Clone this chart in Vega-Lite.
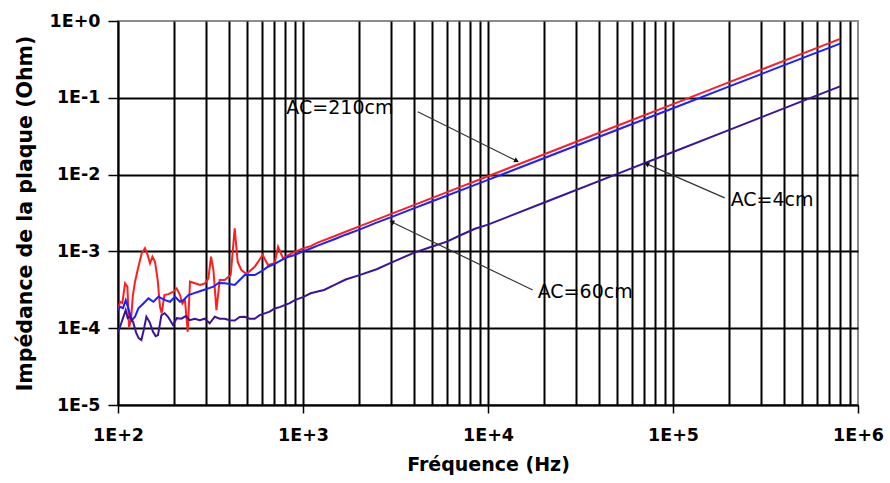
{
  "$schema": "https://vega.github.io/schema/vega-lite/v6.json",
  "width": 740,
  "height": 384,
  "autosize": "none",
  "padding": {"left": 118, "top": 21, "right": 32, "bottom": 78},
  "background": "white",
  "config": {
    "view": {"stroke": "#8c8c8c", "strokeWidth": 2},
    "font": "DejaVu Sans"
  },
  "datasets": {
    "curves": [
      {"serie": "AC=210cm", "freq": 100, "z": 1.72e-4},
      {"serie": "AC=210cm", "freq": 102.5, "z": 2.21e-4},
      {"serie": "AC=210cm", "freq": 105.6, "z": 2.12e-4},
      {"serie": "AC=210cm", "freq": 109.1, "z": 3.84e-4},
      {"serie": "AC=210cm", "freq": 112.4, "z": 3.47e-4},
      {"serie": "AC=210cm", "freq": 114.7, "z": 1.04e-4},
      {"serie": "AC=210cm", "freq": 117.6, "z": 1.27e-4},
      {"serie": "AC=210cm", "freq": 120.1, "z": 2.57e-4},
      {"serie": "AC=210cm", "freq": 123.6, "z": 4.03e-4},
      {"serie": "AC=210cm", "freq": 128.9, "z": 6.31e-4},
      {"serie": "AC=210cm", "freq": 134.3, "z": 9.44e-4},
      {"serie": "AC=210cm", "freq": 139.9, "z": 1.10e-3},
      {"serie": "AC=210cm", "freq": 144.7, "z": 8.97e-4},
      {"serie": "AC=210cm", "freq": 148.9, "z": 7.00e-4},
      {"serie": "AC=210cm", "freq": 153.5, "z": 8.53e-4},
      {"serie": "AC=210cm", "freq": 158.5, "z": 7.34e-4},
      {"serie": "AC=210cm", "freq": 163.9, "z": 4.24e-4},
      {"serie": "AC=210cm", "freq": 168.7, "z": 1.90e-4},
      {"serie": "AC=210cm", "freq": 172.3, "z": 1.57e-4},
      {"serie": "AC=210cm", "freq": 178.2, "z": 2.70e-4},
      {"serie": "AC=210cm", "freq": 187.3, "z": 2.78e-4},
      {"serie": "AC=210cm", "freq": 199.3, "z": 2.98e-4},
      {"serie": "AC=210cm", "freq": 207.6, "z": 3.30e-4},
      {"serie": "AC=210cm", "freq": 216.4, "z": 2.70e-4},
      {"serie": "AC=210cm", "freq": 222.9, "z": 2.10e-4},
      {"serie": "AC=210cm", "freq": 230.2, "z": 2.32e-4},
      {"serie": "AC=210cm", "freq": 238.1, "z": 8.97e-5},
      {"serie": "AC=210cm", "freq": 245.0, "z": 4.03e-4},
      {"serie": "AC=210cm", "freq": 260.8, "z": 3.84e-4},
      {"serie": "AC=210cm", "freq": 277.5, "z": 3.65e-4},
      {"serie": "AC=210cm", "freq": 295.3, "z": 3.84e-4},
      {"serie": "AC=210cm", "freq": 308.1, "z": 4.46e-4},
      {"serie": "AC=210cm", "freq": 318.3, "z": 8.53e-4},
      {"serie": "AC=210cm", "freq": 328.0, "z": 5.72e-4},
      {"serie": "AC=210cm", "freq": 340.4, "z": 1.72e-4},
      {"serie": "AC=210cm", "freq": 354.6, "z": 4.24e-4},
      {"serie": "AC=210cm", "freq": 377.4, "z": 4.24e-4},
      {"serie": "AC=210cm", "freq": 406.6, "z": 4.92e-4},
      {"serie": "AC=210cm", "freq": 427.3, "z": 2.00e-3},
      {"serie": "AC=210cm", "freq": 443.6, "z": 7.27e-4},
      {"serie": "AC=210cm", "freq": 464.5, "z": 5.72e-4},
      {"serie": "AC=210cm", "freq": 494.4, "z": 5.07e-4},
      {"serie": "AC=210cm", "freq": 548.3, "z": 6.31e-4},
      {"serie": "AC=210cm", "freq": 605.6, "z": 8.97e-4},
      {"serie": "AC=210cm", "freq": 647.1, "z": 6.65e-4},
      {"serie": "AC=210cm", "freq": 703.1, "z": 7.00e-4},
      {"serie": "AC=210cm", "freq": 733.0, "z": 1.15e-3},
      {"serie": "AC=210cm", "freq": 779.7, "z": 8.13e-4},
      {"serie": "AC=210cm", "freq": 865.8, "z": 9.44e-4},
      {"serie": "AC=210cm", "freq": 1000, "z": 1.09e-3},
      {"serie": "AC=210cm", "freq": 1100, "z": 1.17e-3},
      {"serie": "AC=210cm", "freq": 1200, "z": 1.30e-3},
      {"serie": "AC=210cm", "freq": 1500, "z": 1.60e-3},
      {"serie": "AC=210cm", "freq": 1700, "z": 1.80e-3},
      {"serie": "AC=210cm", "freq": 2000, "z": 2.10e-3},
      {"serie": "AC=210cm", "freq": 2500, "z": 2.59e-3},
      {"serie": "AC=210cm", "freq": 3000, "z": 3.08e-3},
      {"serie": "AC=210cm", "freq": 4000, "z": 4.03e-3},
      {"serie": "AC=210cm", "freq": 5000, "z": 4.97e-3},
      {"serie": "AC=210cm", "freq": 7000, "z": 6.81e-3},
      {"serie": "AC=210cm", "freq": 10000, "z": 9.53e-3},
      {"serie": "AC=210cm", "freq": 20000, "z": 1.83e-2},
      {"serie": "AC=210cm", "freq": 50000, "z": 4.33e-2},
      {"serie": "AC=210cm", "freq": 100000, "z": 8.28e-2},
      {"serie": "AC=210cm", "freq": 200000, "z": 0.159},
      {"serie": "AC=210cm", "freq": 500000, "z": 0.376},
      {"serie": "AC=210cm", "freq": 800000, "z": 0.585},

      {"serie": "AC=60cm", "freq": 100, "z": 1.72e-4},
      {"serie": "AC=60cm", "freq": 102.5, "z": 1.90e-4},
      {"serie": "AC=60cm", "freq": 106.4, "z": 1.83e-4},
      {"serie": "AC=60cm", "freq": 110.1, "z": 2.32e-4},
      {"serie": "AC=60cm", "freq": 113.8, "z": 1.81e-4},
      {"serie": "AC=60cm", "freq": 118.6, "z": 1.27e-4},
      {"serie": "AC=60cm", "freq": 123.6, "z": 1.41e-4},
      {"serie": "AC=60cm", "freq": 128.9, "z": 1.81e-4},
      {"serie": "AC=60cm", "freq": 137.2, "z": 2.10e-4},
      {"serie": "AC=60cm", "freq": 146.0, "z": 2.45e-4},
      {"serie": "AC=60cm", "freq": 155.4, "z": 2.21e-4},
      {"serie": "AC=60cm", "freq": 165.4, "z": 2.57e-4},
      {"serie": "AC=60cm", "freq": 179.6, "z": 2.32e-4},
      {"serie": "AC=60cm", "freq": 191.0, "z": 2.21e-4},
      {"serie": "AC=60cm", "freq": 203.3, "z": 2.57e-4},
      {"serie": "AC=60cm", "freq": 216.4, "z": 2.21e-4},
      {"serie": "AC=60cm", "freq": 225.7, "z": 2.32e-4},
      {"serie": "AC=60cm", "freq": 240.2, "z": 2.70e-4},
      {"serie": "AC=60cm", "freq": 255.7, "z": 2.84e-4},
      {"serie": "AC=60cm", "freq": 272.1, "z": 2.98e-4},
      {"serie": "AC=60cm", "freq": 289.5, "z": 3.14e-4},
      {"serie": "AC=60cm", "freq": 308.1, "z": 3.30e-4},
      {"serie": "AC=60cm", "freq": 328.0, "z": 3.47e-4},
      {"serie": "AC=60cm", "freq": 349.0, "z": 3.87e-4},
      {"serie": "AC=60cm", "freq": 377.4, "z": 3.84e-4},
      {"serie": "AC=60cm", "freq": 401.6, "z": 3.76e-4},
      {"serie": "AC=60cm", "freq": 427.3, "z": 3.65e-4},
      {"serie": "AC=60cm", "freq": 454.8, "z": 4.24e-4},
      {"serie": "AC=60cm", "freq": 484.0, "z": 4.92e-4},
      {"serie": "AC=60cm", "freq": 548.3, "z": 4.92e-4},
      {"serie": "AC=60cm", "freq": 598.2, "z": 5.55e-4},
      {"serie": "AC=60cm", "freq": 647.1, "z": 6.31e-4},
      {"serie": "AC=60cm", "freq": 703.1, "z": 6.86e-4},
      {"serie": "AC=60cm", "freq": 764.3, "z": 7.72e-4},
      {"serie": "AC=60cm", "freq": 826.7, "z": 8.45e-4},
      {"serie": "AC=60cm", "freq": 902.1, "z": 8.97e-4},
      {"serie": "AC=60cm", "freq": 1000, "z": 1.00e-3},
      {"serie": "AC=60cm", "freq": 1100, "z": 1.09e-3},
      {"serie": "AC=60cm", "freq": 1200, "z": 1.19e-3},
      {"serie": "AC=60cm", "freq": 1500, "z": 1.46e-3},
      {"serie": "AC=60cm", "freq": 1700, "z": 1.65e-3},
      {"serie": "AC=60cm", "freq": 2000, "z": 1.91e-3},
      {"serie": "AC=60cm", "freq": 2500, "z": 2.37e-3},
      {"serie": "AC=60cm", "freq": 3000, "z": 2.79e-3},
      {"serie": "AC=60cm", "freq": 4000, "z": 3.66e-3},
      {"serie": "AC=60cm", "freq": 5000, "z": 4.49e-3},
      {"serie": "AC=60cm", "freq": 7000, "z": 6.14e-3},
      {"serie": "AC=60cm", "freq": 10000, "z": 8.55e-3},
      {"serie": "AC=60cm", "freq": 20000, "z": 1.63e-2},
      {"serie": "AC=60cm", "freq": 50000, "z": 3.84e-2},
      {"serie": "AC=60cm", "freq": 100000, "z": 7.31e-2},
      {"serie": "AC=60cm", "freq": 200000, "z": 0.140},
      {"serie": "AC=60cm", "freq": 500000, "z": 0.328},
      {"serie": "AC=60cm", "freq": 800000, "z": 0.508},

      {"serie": "AC=4cm", "freq": 100, "z": 8.97e-5},
      {"serie": "AC=4cm", "freq": 102.8, "z": 1.06e-4},
      {"serie": "AC=4cm", "freq": 106.4, "z": 1.35e-4},
      {"serie": "AC=4cm", "freq": 110.1, "z": 1.72e-4},
      {"serie": "AC=4cm", "freq": 112.8, "z": 1.35e-4},
      {"serie": "AC=4cm", "freq": 115.7, "z": 1.41e-4},
      {"serie": "AC=4cm", "freq": 120.8, "z": 1.20e-4},
      {"serie": "AC=4cm", "freq": 125.7, "z": 8.55e-5},
      {"serie": "AC=4cm", "freq": 129.4, "z": 7.43e-5},
      {"serie": "AC=4cm", "freq": 133.8, "z": 7.00e-5},
      {"serie": "AC=4cm", "freq": 137.7, "z": 9.44e-5},
      {"serie": "AC=4cm", "freq": 142.4, "z": 1.41e-4},
      {"serie": "AC=4cm", "freq": 148.3, "z": 1.20e-4},
      {"serie": "AC=4cm", "freq": 154.6, "z": 8.97e-5},
      {"serie": "AC=4cm", "freq": 159.9, "z": 7.88e-5},
      {"serie": "AC=4cm", "freq": 164.5, "z": 8.12e-5},
      {"serie": "AC=4cm", "freq": 171.7, "z": 1.48e-4},
      {"serie": "AC=4cm", "freq": 178.8, "z": 1.57e-4},
      {"serie": "AC=4cm", "freq": 186.3, "z": 1.41e-4},
      {"serie": "AC=4cm", "freq": 198.3, "z": 1.10e-4},
      {"serie": "AC=4cm", "freq": 207.6, "z": 1.35e-4},
      {"serie": "AC=4cm", "freq": 220.1, "z": 1.33e-4},
      {"serie": "AC=4cm", "freq": 232.3, "z": 1.44e-4},
      {"serie": "AC=4cm", "freq": 244.1, "z": 1.27e-4},
      {"serie": "AC=4cm", "freq": 259.8, "z": 1.33e-4},
      {"serie": "AC=4cm", "freq": 276.5, "z": 1.27e-4},
      {"serie": "AC=4cm", "freq": 294.2, "z": 1.33e-4},
      {"serie": "AC=4cm", "freq": 313.1, "z": 1.16e-4},
      {"serie": "AC=4cm", "freq": 333.3, "z": 1.41e-4},
      {"serie": "AC=4cm", "freq": 354.6, "z": 1.33e-4},
      {"serie": "AC=4cm", "freq": 377.4, "z": 1.33e-4},
      {"serie": "AC=4cm", "freq": 401.6, "z": 1.27e-4},
      {"serie": "AC=4cm", "freq": 427.3, "z": 1.26e-4},
      {"serie": "AC=4cm", "freq": 454.8, "z": 1.40e-4},
      {"serie": "AC=4cm", "freq": 484.0, "z": 1.41e-4},
      {"serie": "AC=4cm", "freq": 515.1, "z": 1.33e-4},
      {"serie": "AC=4cm", "freq": 548.3, "z": 1.33e-4},
      {"serie": "AC=4cm", "freq": 583.2, "z": 1.48e-4},
      {"serie": "AC=4cm", "freq": 620.9, "z": 1.56e-4},
      {"serie": "AC=4cm", "freq": 660.7, "z": 1.64e-4},
      {"serie": "AC=4cm", "freq": 703.1, "z": 1.81e-4},
      {"serie": "AC=4cm", "freq": 748.2, "z": 1.88e-4},
      {"serie": "AC=4cm", "freq": 796.3, "z": 2.00e-4},
      {"serie": "AC=4cm", "freq": 847.6, "z": 2.12e-4},
      {"serie": "AC=4cm", "freq": 902.1, "z": 2.32e-4},
      {"serie": "AC=4cm", "freq": 1000, "z": 2.54e-4},
      {"serie": "AC=4cm", "freq": 1100, "z": 2.85e-4},
      {"serie": "AC=4cm", "freq": 1200, "z": 3.01e-4},
      {"serie": "AC=4cm", "freq": 1300, "z": 3.15e-4},
      {"serie": "AC=4cm", "freq": 1500, "z": 3.72e-4},
      {"serie": "AC=4cm", "freq": 1700, "z": 4.30e-4},
      {"serie": "AC=4cm", "freq": 2000, "z": 4.88e-4},
      {"serie": "AC=4cm", "freq": 2500, "z": 5.85e-4},
      {"serie": "AC=4cm", "freq": 3000, "z": 7.16e-4},
      {"serie": "AC=4cm", "freq": 4000, "z": 9.65e-4},
      {"serie": "AC=4cm", "freq": 5000, "z": 1.16e-3},
      {"serie": "AC=4cm", "freq": 6000, "z": 1.34e-3},
      {"serie": "AC=4cm", "freq": 7000, "z": 1.60e-3},
      {"serie": "AC=4cm", "freq": 8500, "z": 1.97e-3},
      {"serie": "AC=4cm", "freq": 10000, "z": 2.23e-3},
      {"serie": "AC=4cm", "freq": 20000, "z": 4.30e-3},
      {"serie": "AC=4cm", "freq": 50000, "z": 1.02e-2},
      {"serie": "AC=4cm", "freq": 100000, "z": 1.97e-2},
      {"serie": "AC=4cm", "freq": 200000, "z": 3.80e-2},
      {"serie": "AC=4cm", "freq": 500000, "z": 9.04e-2},
      {"serie": "AC=4cm", "freq": 800000, "z": 0.141}
    ],
    "labels": [
      {"label": "AC=210cm", "freq": 813, "z": 0.0741},
      {"label": "AC=60cm", "freq": 18560, "z": 2.98e-4},
      {"label": "AC=4cm", "freq": 205000, "z": 4.68e-3}
    ],
    "arrows": [
      {"label": "AC=210cm", "freq": 14290, "z": 0.01509, "freq2": 4170, "z2": 0.0657},
      {"label": "AC=60cm", "freq": 3016, "z": 2.42e-3, "freq2": 17440, "z2": 3.14e-4},
      {"label": "AC=4cm", "freq": 72070, "z": 0.01379, "freq2": 190300, "z2": 4.97e-3}
    ]
  },
  "encoding": {
    "x": {
      "field": "freq",
      "type": "quantitative",
      "scale": {"type": "log", "domain": [100, 1000000]},
      "axis": {
        "title": "Fréquence (Hz)",
        "values": [100, 200, 300, 400, 500, 600, 700, 800, 900,
                   1000, 2000, 3000, 4000, 5000, 6000, 7000, 8000, 9000,
                   10000, 20000, 30000, 40000, 50000, 60000, 70000, 80000, 90000,
                   100000, 200000, 300000, 400000, 500000, 600000, 700000, 800000, 900000,
                   1000000],
        "labelExpr": "abs(log(datum.value) / LN10 - round(log(datum.value) / LN10)) < 0.001 ? '1E+' + round(log(datum.value) / LN10) : ''",
        "labelOverlap": false,
        "labelFlush": false,
        "grid": true,
        "gridColor": "black",
        "gridWidth": 2,
        "gridOpacity": {"condition": {"test": "datum.value > 999999", "value": 0}, "value": 1},
        "tickColor": "black",
        "tickWidth": 1.5,
        "tickSize": 8,
        "tickOpacity": {"condition": {"test": "abs(log(datum.value) / LN10 - round(log(datum.value) / LN10)) < 0.001", "value": 1}, "value": 0},
        "domainColor": "black",
        "domainWidth": 1.5,
        "labelFont": "DejaVu Sans",
        "labelFontWeight": "bold",
        "labelFontSize": 17.5,
        "labelColor": "black",
        "labelPadding": 13,
        "titleFont": "DejaVu Sans",
        "titleFontWeight": "bold",
        "titleFontSize": 19,
        "titleColor": "black",
        "titlePadding": 12
      }
    },
    "y": {
      "field": "z",
      "type": "quantitative",
      "scale": {"type": "log", "domain": [0.00001, 1]},
      "axis": {
        "title": "Impédance de la plaque (Ohm)",
        "values": [0.00001, 0.0001, 0.001, 0.01, 0.1, 1],
        "labelExpr": "'1E' + (round(log(datum.value) / LN10) >= 0 ? '+' : '') + round(log(datum.value) / LN10)",
        "labelOverlap": false,
        "grid": true,
        "gridColor": "black",
        "gridWidth": 2,
        "gridOpacity": {"condition": {"test": "datum.value > 0.999", "value": 0}, "value": 1},
        "tickColor": "black",
        "tickWidth": 1.5,
        "tickSize": 10,
        "domainColor": "black",
        "domainWidth": 1.5,
        "labelFont": "DejaVu Sans",
        "labelFontWeight": "bold",
        "labelFontSize": 17.5,
        "labelColor": "black",
        "labelPadding": 8,
        "titleFont": "DejaVu Sans",
        "titleFontWeight": "bold",
        "titleFontSize": 20.5,
        "titleColor": "black",
        "titlePadding": 14
      }
    }
  },
  "layer": [
    {
      "data": {"name": "curves"},
      "mark": {"type": "line", "strokeWidth": 2, "clip": true},
      "encoding": {
        "color": {
          "field": "serie",
          "type": "nominal",
          "scale": {"domain": ["AC=210cm", "AC=60cm", "AC=4cm"], "range": ["#ff1e1e", "#1e1eff", "#3b139b"]},
          "legend": null
        }
      }
    },
    {
      "data": {"name": "arrows"},
      "mark": {"type": "rule", "color": "#333333", "strokeWidth": 1.2},
      "encoding": {
        "x2": {"field": "freq2"},
        "y2": {"field": "z2"}
      }
    },
    {
      "data": {"name": "arrows"},
      "transform": [{"filter": "datum.label === 'AC=210cm'"}],
      "mark": {"type": "point", "shape": "triangle-up", "filled": true, "color": "#111111", "size": 32, "angle": 116, "opacity": 1}
    },
    {
      "data": {"name": "arrows"},
      "transform": [{"filter": "datum.label === 'AC=60cm'"}],
      "mark": {"type": "point", "shape": "triangle-up", "filled": true, "color": "#111111", "size": 32, "angle": 296, "opacity": 1}
    },
    {
      "data": {"name": "arrows"},
      "transform": [{"filter": "datum.label === 'AC=4cm'"}],
      "mark": {"type": "point", "shape": "triangle-up", "filled": true, "color": "#111111", "size": 32, "angle": 294, "opacity": 1}
    },
    {
      "data": {"name": "labels"},
      "mark": {"type": "text", "align": "left", "baseline": "middle", "font": "DejaVu Sans", "fontSize": 19, "color": "black"},
      "encoding": {"text": {"field": "label"}}
    }
  ]
}
